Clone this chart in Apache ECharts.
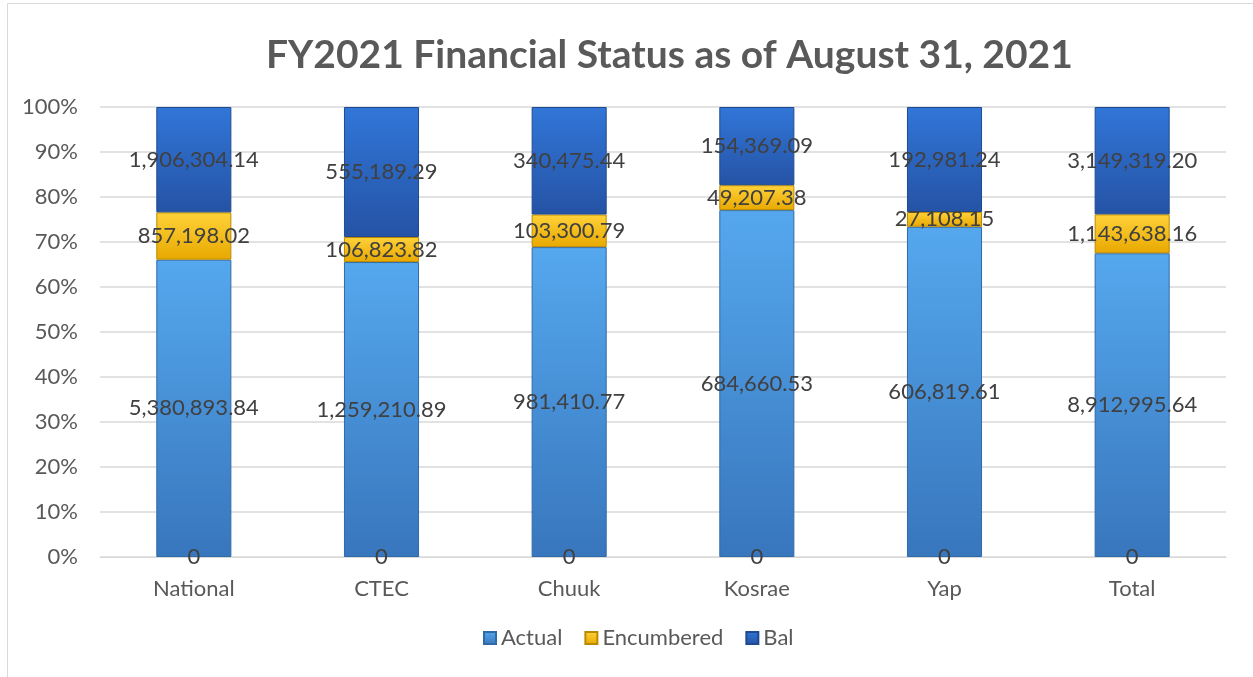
<!DOCTYPE html>
<html>
<head>
<meta charset="utf-8">
<script src="https://cdn.jsdelivr.net/npm/echarts@6/dist/echarts.min.js"></script>
<style>
  html, body { margin: 0; padding: 0; background: #fff; }
  #chart { width: 1253px; height: 677px; }
</style>
</head>
<body>
<div id="chart"></div>
<script>
// 数据
const categories = ['National', 'CTEC', 'Chuuk', 'Kosrae', 'Yap', 'Total'];
const actual = [5380893.84, 1259210.89, 981410.77, 684660.53, 606819.61, 8912995.64];
const encumbered = [857198.02, 106823.82, 103300.79, 49207.38, 27108.15, 1143638.16];
const bal = [1906304.14, 555189.29, 340475.44, 154369.09, 192981.24, 3149319.20];
const zeros = [0, 0, 0, 0, 0, 0];
const yTicks = ['0%', '10%', '20%', '30%', '40%', '50%', '60%', '70%', '80%', '90%', '100%'];

const totals = categories.map((_, i) => actual[i] + encumbered[i] + bal[i]);
const pct = arr => arr.map((v, i) => v / totals[i] * 100);

const fmt = v => v.toLocaleString('en-US', { minimumFractionDigits: 2, maximumFractionDigits: 2 });

const grad = (top, bottom) => new echarts.graphic.LinearGradient(0, 0, 0, 1, [
  { offset: 0, color: top },
  { offset: 1, color: bottom }
]);

const labelStyle = raw => ({
  show: true,
  position: 'inside',
  color: '#404040',
  fontSize: 22,
  fontFamily: 'Lato',
  formatter: p => fmt(raw[p.dataIndex])
});

const chart = echarts.init(document.getElementById('chart'));
chart.setOption({
  animation: false,
  title: {
    text: 'FY2021 Financial Status as of August 31, 2021',
    left: 261,
    top: 31,
    textStyle: { fontFamily: 'Lato', fontWeight: 'bold', fontSize: 39, color: '#595959' }
  },
  graphic: [{
    type: 'rect',
    shape: { x: 7.5, y: 3.5, width: 1300, height: 720 },
    style: { fill: 'none', stroke: '#d9d9d9', lineWidth: 1 },
    silent: true
  }],
  legend: {
    data: ['Actual', 'Encumbered', 'Bal'],
    bottom: 23,
    left: 478,
    icon: 'rect',
    itemWidth: 12,
    itemHeight: 12,
    itemGap: 22,
    textStyle: { fontFamily: 'Lato', fontSize: 22, color: '#595959' }
  },
  grid: { left: 100, right: 27, top: 107, bottom: 120 },
  xAxis: {
    type: 'category',
    data: categories,
    axisLine: { lineStyle: { color: '#d9d9d9' } },
    axisTick: { show: false },
    axisLabel: { fontFamily: 'Lato', fontSize: 22, color: '#595959', margin: 21 }
  },
  yAxis: {
    type: 'value',
    min: 0,
    max: 100,
    interval: 10,
    axisLine: { show: false },
    axisTick: { show: false },
    splitLine: { lineStyle: { color: '#d9d9d9', width: 1.5 } },
    axisLabel: {
      fontFamily: 'Lato', fontSize: 22, color: '#595959', margin: 22,
      formatter: v => yTicks[Math.round(v / 10)]
    }
  },
  series: [
    {
      name: 'Zero',
      type: 'bar',
      stack: 'all',
      data: zeros,
      barWidth: '40%',
      label: { show: true, position: 'inside', color: '#404040', fontSize: 22, fontFamily: 'Lato', formatter: '0' }
    },
    {
      name: 'Actual',
      type: 'bar',
      stack: 'all',
      data: pct(actual),
      barWidth: '40%',
      itemStyle: { color: grad('#55a8ee', '#3876bd'), borderColor: '#2f6aa8', borderWidth: 1 },
      label: labelStyle(actual)
    },
    {
      name: 'Encumbered',
      type: 'bar',
      stack: 'all',
      data: pct(encumbered),
      barWidth: '40%',
      itemStyle: { color: grad('#ffd23a', '#e8a800'), borderColor: '#b98a00', borderWidth: 1 },
      label: labelStyle(encumbered)
    },
    {
      name: 'Bal',
      type: 'bar',
      stack: 'all',
      data: pct(bal),
      barWidth: '40%',
      itemStyle: { color: grad('#3176d8', '#2553a5'), borderColor: '#1f4a8f', borderWidth: 1 },
      label: labelStyle(bal)
    }
  ]
});
</script>
</body>
</html>
